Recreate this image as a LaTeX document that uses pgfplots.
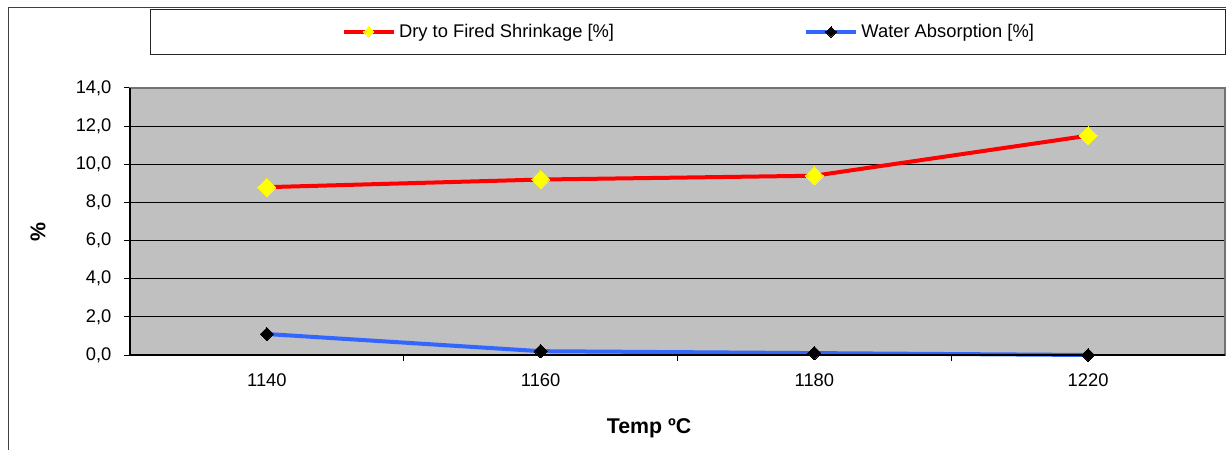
\documentclass[border=0pt]{standalone}
\usepackage{pgfplots}
\pgfplotsset{compat=1.18}
\usepackage{fontspec}
\setmainfont{Liberation Sans}
\definecolor{plotbg}{HTML}{C0C0C0}
\definecolor{redline}{HTML}{FF0000}
\definecolor{blueline}{HTML}{3366FF}
\definecolor{yellowmark}{HTML}{FFFF00}
\begin{document}
\begin{tikzpicture}
\useasboundingbox (0pt,0pt) rectangle (735.6pt,270pt);
\draw[black!75, line width=0.6pt] (4.8pt,-10pt) -- (4.8pt,265.2pt) -- (760pt,265.2pt);
\draw[black!85, line width=0.6pt, fill=white] (90pt,237pt) rectangle (735pt,264pt);
\begin{axis}[
  at={(78pt,57pt)}, anchor=south west,
  scale only axis, width=657pt, height=160.2pt,
  xmin=-0.5, xmax=3.5, ymin=0, ymax=14,
  axis background/.style={fill=plotbg},
  axis line style={draw=black!55, line width=0.9pt},
  xtick={0,1,2,3}, xticklabels={1140,1160,1180,1220},
  minor xtick={0.5,1.5,2.5},
  major x tick style={draw=none},
  minor x tick style={black, line width=0.6pt},
  minor tick length=3.6pt,
  ytick={0,2,...,14},
  y tick style={black, line width=0.6pt},
  major tick length=3.6pt,
  tick align=outside, tick pos=left,
  ymajorgrids, grid style={black, line width=0.6pt},
  /pgf/number format/.cd, fixed, fixed zerofill, precision=1, use comma, assume math mode=true,
  /pgfplots/.cd,
  tick label style={font=\fontsize{11}{13}\selectfont, text=black},
  yticklabel style={xshift=-4pt},
  xticklabel style={yshift=-4pt},
  xlabel={Temp ºC}, ylabel={\%},
  label style={font=\fontsize{12.8}{14}\selectfont\bfseries},
  xlabel style={at={(axis description cs:0.474,-0.273)}, anchor=center},
  ylabel style={at={(axis description cs:-0.084,0.46)}, anchor=center, rotate=0},
  legend style={draw=none, fill=none, at={(axis description cs:0.511,1.21)}, anchor=center,
    font=\fontsize{11}{13}\selectfont, legend columns=2,
    /tikz/every even column/.append style={column sep=112pt},
    inner sep=0pt, cells={anchor=west}},
  legend image code/.code={
    \draw[mark repeat=2, mark phase=2, #1, mark size=2.2pt] plot coordinates {(0pt,0pt) (15pt,0pt) (30pt,0pt)};
  },
  clip=false,
]
\addplot[redline, line width=2.4pt, mark=square*, mark size=3.8pt,
  mark options={rotate=45, fill=yellowmark, draw=yellowmark, line width=0pt}]
  coordinates {(0,8.8) (1,9.2) (2,9.4) (3,11.5)};
\addlegendentry{Dry to Fired Shrinkage [\%]}
\addplot[blueline, line width=2.4pt, mark=square*, mark size=2.8pt,
  mark options={rotate=45, fill=black, draw=black, line width=0pt}]
  coordinates {(0,1.1) (1,0.2) (2,0.1) (3,0.0)};
\addlegendentry{Water Absorption [\%]}
\draw[black, line width=0.9pt] (rel axis cs:0,1) -- (rel axis cs:0,0) -- (rel axis cs:1,0);
\end{axis}
\end{tikzpicture}
\end{document}
